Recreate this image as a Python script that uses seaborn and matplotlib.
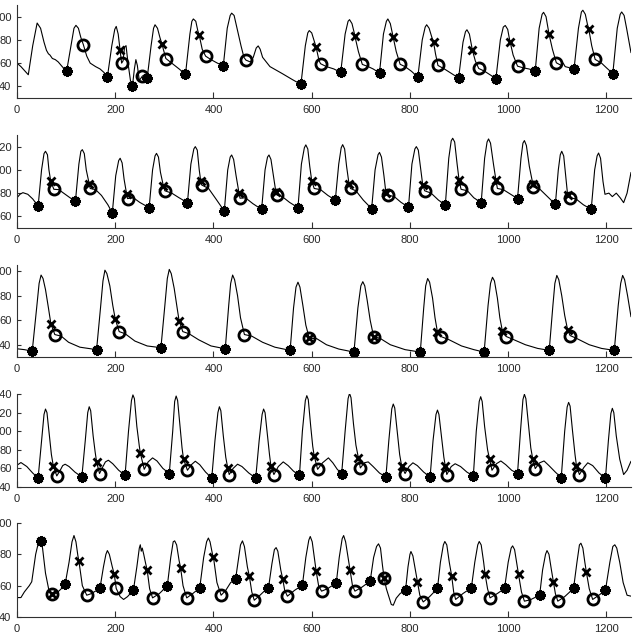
import matplotlib
matplotlib.use("Agg")
import matplotlib.pyplot as plt
import seaborn as sns
import pandas as pd

# ---------------- Panel 1 ----------------
p1_line = [(0,60),(8,57),(23,50),(32,75),(41,94.5),(48,90),(55,78),(60,71),(64,68),(67,67),(72,64),(78,63),(84,61),(92,57),(101,53),
(110,75),(116,90),(120,92.5),(125,90),(130,82),(135,76),(142,66),(149,60),(160,57),(169,55),(177,52),(184,48),
(193,75),(199,89),(202,91.6),(206,85),(210,71),(213,60),(216,62),(219,74),(222,75),(226,60),(231,45),(235,40.3),(239,55),(242,63),(245,58),(249,45),(255,48.7),(260,50),(265,47),
(273,75),(278,90),(281,93),(286,90),(291,82),(295,76.5),(303,64),(315,60),(330,55),(343,50.4),
(352,85),(356,96),(359,98),(364,96),(368,88),(371,84),(377,72),(384,66),(395,63),(408,60),(420,57.7),
(428,90),(434,101),(437,103),(442,101),(448,90),(456,75),(462,65),(466,62.6),(475,61),(481,65),(487,73),(491,74.8),(495,72),(500,65),(515,57),(540,51),(560,46),(578,41.7),
(587,75),(592,86),(595,88),(600,86),(605,79),(609,73.6),(615,62),(618,59.5),(630,57),(645,55),(659,52),
(668,85),(674,96),(677,97.4),(682,94),(686,87),(688,83),(695,70),(703,58.9),(715,57),(725,55),(738,51.6),
(746,85),(752,96),(755,98),(760,94),(764,86),(766,82.3),(772,70),(780,59),(790,57),(803,53),(816,48),
(825,80),(831,91),(834,93),(839,90),(844,83),(848,78),(852,68),(857,58),(870,55),(885,51),(899,47.2),
(908,78),(913,87),(916,88.7),(921,85),(925,76),(927,71.3),(933,62),(940,55.4),(952,53),(963,50),(975,46.7),
(984,80),(990,91),(994,92.4),(999,89),(1002,82),(1004,78),(1010,67),(1019,57.4),(1030,56),(1042,55),(1055,53.3),
(1063,90),(1069,102),(1072,103.7),(1077,100),(1081,90),(1083,85.2),(1090,72),(1098,60.3),(1108,58),(1112,60),(1116,57),(1125,56),(1134,54.8),
(1143,90),(1149,104),(1152,105.5),(1157,102),(1161,94),(1164,89.3),(1170,75),(1177,63.2),(1190,60),(1200,56),(1213,51),
(1222,90),(1228,102),(1231,104),(1236,101),(1241,90),(1250,69)]
p1_star = [(101,53),(184,48),(235,40.3),(265,47),(343,50.4),(420,57.7),(578,41.7),(659,52),(738,51.6),(816,48),(899,47.2),(975,46.7),(1055,53.3),(1134,54.8),(1213,51)]
p1_x = [(210,71.3),(295,76.5),(371,84),(609,73.6),(688,83),(766,82.3),(848,78),(927,71.3),(1004,78),(1083,85.2),(1164,89.3)]
p1_o = [(135,76),(213,59.7),(255,48.7),(303,63.8),(384,66),(466,62.6),(618,59.5),(703,58.9),(780,59),(857,58),(940,55.4),(1019,57.4),(1098,60.3),(1177,63.2)]

# ---------------- Panel 2 ----------------
p2_line = [(0,76),(6,79),(12,80.4),(22,79),(32,75),(43,68.9),
(50,100),(55,114),(58,116),(62,113),(65,100),(68.5,90.6),(75,83.3),(85,83),(95,80),(108,76),(119,73.2),
(126,105),(130,116),(133,117.4),(137,114),(141,100),(147,87.7),(149,84),(160,83),(172,78),(185,70),(194,63),
(201,95),(207,108),(210,110),(214,106),(218,92),(223,79.6),(225,75.3),(237,76),(250,72),(269,67.5),
(276,100),(281,112),(284,114.2),(288,111),(292,98),(298,86.2),(301,82),(315,80),(330,76),(347,71.8),
(354,105),(360,118),(363,120),(367,117),(371,100),(374,90.6),(376,87),(390,84),(405,75),(422,64.6),
(429,100),(434,111),(437,112.8),(441,109),(446,95),(452,80),(454,75.6),(465,76),(480,71),(498,66),
(505,100),(510,111),(513,112.8),(517,109),(522,95),(527,81),(529,78.4),(540,77),(555,72),(572,67.5),
(579,105),(585,119),(588,121.5),(592,118),(596,103),(600,90.6),(605,84),(618,83),(633,78),(648,74),
(655,105),(660,119),(663,121.7),(667,118),(671,103),(676,87.7),(679,84),(690,82),(705,74),(722,66.6),
(729,100),(735,113),(738,115),(742,111),(747,95),(751,80.4),(755,78.4),(768,77),(782,72),(797,68),
(804,105),(810,118),(813,120),(817,117),(822,100),(826,87),(830,82),(843,80),(858,74),(872,69.8),
(879,110),(884,125),(887,127.2),(891,124),(896,105),(900,91.2),(904,83.3),(917,82),(930,76),(945,71.8),
(952,110),(957,124),(960,126.6),(964,123),(970,105),(975,91.2),(978,84),(990,83),(1005,79),(1019,75.3),
(1026,110),(1030,123),(1033,125.2),(1037,121),(1043,103),(1050,88.2),(1051,85.4),(1063,84),(1080,77),(1096,70.4),
(1102,100),(1106,113),(1109,116),(1113,112),(1117,95),(1121,78.2),(1125,76),(1138,75),(1153,70),(1169,66),
(1176,100),(1181,112),(1184,114.5),(1188,110),(1193,90),(1197,79),(1205,80),(1212,77),(1220,80),(1228,76),(1235,71.8),(1242,80),(1250,97.8)]
p2_star = [(43,68.9),(119,73.2),(194,63),(269,67.5),(347,71.8),(422,64.6),(498,66),(572,67.5),(648,74),(722,66.6),(797,68),(872,69.8),(945,71.8),(1019,75.3),(1096,70.4),(1169,66)]
p2_x = [(68.5,90.6),(147,87.7),(223,79.6),(298,86.2),(374,90.6),(452,80),(527,81),(600,90.6),(676,87.7),(751,80.4),(826,87),(900,91.2),(975,91.2),(1050,88.2),(1121,78.2)]
p2_o = [(75,83.3),(149,84),(225,75.3),(301,82),(376,87),(454,75.6),(529,78.4),(605,84),(679,84),(755,78.4),(830,82),(904,83.3),(978,84),(1051,85.4),(1125,76)]

# ---------------- Panel 3 ----------------
p3_line = [(0,36.7),(15,36),(31,34.8),(40,70),(45,90),(49,96.8),(53,94),(58,85),(64,70),(69,57),(77,48.3),(90,47),(105,42),(128,38),(145,37),(162,36),
(170,70),(175,92),(179,100.8),(183,98),(189,88),(195,72),(200,61),(208,50.7),(220,49),(240,43),(265,39),(293,37.6),
(301,72),(306,94),(310,101.4),(314,98),(320,86),(326,70),(330,59.6),(337.5,50.7),(350,49),(370,44),(395,39),(424,36.7),
(431,72),(435,90),(439,96.8),(443,93),(449,80),(455,62),(463,48.3),(478,47),(500,42),(525,38),(556,35.4),
(563,70),(568,87),(572,91),(576,87),(582,72),(588,56),(595,45.3),(610,45),(630,40),(655,36.5),(686,34),
(694,70),(700,88),(704,91.4),(708,88),(713,76),(719,60),(726,46.7),(740,45),(760,40),(790,36),(821,34),
(828,70),(832,88),(836,94),(840,91),(846,78),(851,62),(856,50.2),(863,46.7),(880,44),(905,39),(930,36),(951,34),
(959,72),(964,90),(968,95),(972,92),(978,78),(983,62),(988,51.5),(996,46.7),(1012,44),(1035,40),(1060,37),(1083.5,35.4),
(1091,72),(1095,90),(1099,96.5),(1103,93),(1109,80),(1115,64),(1121,52),(1126,47.5),(1140,45),(1165,40),(1190,37),(1216,35.4),
(1224,72),(1229,90),(1233,96.5),(1237,93),(1243,80),(1250,62.8)]
p3_star = [(31,34.8),(162,36),(293,37.6),(424,36.7),(556,35.4),(686,34),(821,34),(951,34),(1083.5,35.4),(1216,35.4)]
p3_x = [(69,57),(200,61),(330,59.6),(595,45.3),(726,46.7),(856,50.2),(988,51.5),(1121,52)]
p3_o = [(77,48.3),(208,50.7),(337.5,50.7),(463,48.3),(595,45.3),(726,46.7),(863,46.7),(996,46.7),(1126,47.5)]

# ---------------- Panel 4 ----------------
p4_line = [(0,63.4),(8,66.3),(20,62),(32,55),(43,49.7),
(50,90),(55,118),(58,123.8),(61,120),(66,95),(70,75),(74,62.3),(81,51.9),(88,58),(93,63),(98,64.5),(106,62),(118,56),(132,50.8),
(139,90),(144,120),(147,126.3),(150,122),(155,95),(159,78),(162,67),(168,54.5),(175,62),(180,67),(186,68.8),(195,65),(207,58),(220,52.6),
(227,100),(233,133),(236,139),(239,135),(244,105),(249,84),(251,76.7),(259,59),(267,67),(276,71.3),(285,68),(297,60),(310,54.5),
(317,100),(321,132),(324,137.8),(327,133),(332,105),(336,82),(339,70),(347,58),(355,64),(363,67.7),(372,64),(384,56),(396.5,49.7),
(403,90),(409,120),(412,126.3),(415,122),(420,95),(425,72),(429,60.5),(432,53.4),(440,60),(449,64.5),(458,62),(472,55),(486,49.7),
(493,90),(499,118),(502,123.8),(505,120),(510,95),(514,75),(517,62.3),(523,53.4),(532,62),(542,67),(552,63),(563,57),(575,52.6),
(581,100),(587,133),(590,138.2),(593,134),(598,105),(602,84),(605,73.4),(612,59),(622,66),(634,71.3),(643,66),(652,59),(661,54.5),
(668,100),(674,135),(677,140.7),(680,136),(685,108),(690,85),(695,71.3),(699,60.5),(707,66),(715,67),(725,62),(738,55),(751,50.8),
(757,90),(763,124),(766,129.2),(769,125),(774,100),(779,75),(783,62.7),(790,54.5),(798,62),(806,66),(815,63),(828,56),(841,50.8),
(847,90),(853,118),(856,122.7),(859,118),(864,95),(869,72),(872,62.3),(875,53.4),(884,62),(892,65),(903,62),(916,56),(929,51.9),
(935,100),(941,132),(944,137.1),(947,132),(952,105),(958,80),(962,70),(967,58),(976,65),(985,68),(995,64),(1007,58),(1019,54.5),
(1025,100),(1030,134),(1033,139.7),(1036,135),(1041,108),(1046,82),(1050,70),(1055,59.8),(1064,66),(1073,68),(1083,63),(1096,56),(1108,50.1),
(1115,100),(1120,126),(1123,131),(1126,127),(1131,100),(1136,75),(1139,62.7),(1145,53.4),(1154,61),(1162,66),(1172,63),(1185,55),(1198,49.7),
(1204,90),(1209,119),(1212,124.6),(1215,120),(1220,95),(1227,70),(1235,53.4),(1242,58),(1250,67.7)]
p4_star = [(43,49.7),(132,50.8),(220,52.6),(310,54.5),(396.5,49.7),(486,49.7),(575,52.6),(661,54.5),(751,50.8),(841,50.8),(929,51.9),(1019,54.5),(1108,50.1),(1198,49.7)]
p4_x = [(74,62.3),(162,67),(251,76.7),(339,70),(429,60.5),(517,62.3),(605,73.4),(695,71.3),(783,62.7),(872,62.3),(962,70),(1050,70),(1139,62.7)]
p4_o = [(81,51.9),(168,54.5),(259,59),(347,58),(432,53.4),(523,53.4),(612,59),(699,60.5),(790,54.5),(875,53.4),(967,58),(1055,59.8),(1145,53.4)]

# ---------------- Panel 5 ----------------
p5_line = [(0,52.4),(8,52.4),(15,56),(25,60),(30,62.5),(38,80),(44,88),(48,88.6),(52,84),(58,68),(65,57),(72,54.4),(80,55),(90,58),(98,61),
(106,75),(112,88),(116,92),(120,88),(124,79),(126,75.8),(133,60),(142,53.9),(152,55),(162,57),(169,58.6),
(176,72),(181,80),(184,82.4),(188,80),(194,72),(198,67.2),(202,58.2),(210,53),(217,51.2),(225,53),(237,57.1),
(244,72),(249,84),(251,86.1),(253,82),(255,84),(258,80),(262,74),(265,70),(270,58),(276,52.2),(290,55),(306,59.9),
(313,78),(318,88),(321,88.6),(325,86),(330,76),(333,71.5),(338,60),(345.5,52.2),(358,55),(372,58.6),
(380,78),(386,88),(389.6,90.4),(393,88),(398,80),(400,78.1),(407,62),(415.5,53.9),(425,57),(435,62),(445,64.2),
(450,75),(455,86),(459,88.6),(463,85),(469,72),(473,66.1),(478,56),(483,50.7),(495,54),(505,57),(512,58.6),
(519,74),(524,83),(527.5,84.3),(531,82),(537,70),(541,64.2),(545,57),(550.5,53.3),(565,57),(581,60.3),
(588,78),(594,89),(597,91.4),(601,88),(606,76),(609,69.3),(614,60),(620,56.5),(632,58),(650,61.8),
(656,78),(662,90),(665,92),(669,88),(674,78),(678,70),(683,60),(688,56.5),(702,59),(719,62.9),
(726,78),(732,85),(736,86.7),(740,84),(744,73),(747.5,64.6),(752,58),(758,52),(762,48),(766,47.5),(772,52),(780,55),(791,57.1),
(796,72),(800,80),(802,81.8),(806,79),(811,70),(815,62.5),(820,54),(827,49.6),(840,53),(856,58.2),
(862,75),(868,86),(871,88.2),(875,86),(880,75),(885,66.1),(889,56),(893,51.2),(908,55),(925,58.6),
(932,75),(938,86),(941,88.2),(945,86),(950,75),(953,67.2),(958,58),(963,52.2),(978,55),(992.5,58.2),
(1000,75),(1006,84),(1009,85.4),(1013,83),(1018,73),(1021,67.2),(1027,56),(1033,50.1),(1045,51),(1064,53.9),
(1070,70),(1076,80),(1079,82.4),(1083,80),(1088,70),(1092,62.5),(1096,55),(1101,50.1),(1115,53),(1133,58.2),
(1140,75),(1145,86),(1148,87.1),(1152,84),(1156,75),(1159,68.9),(1165,58),(1172,51.2),(1185,54),(1198,57.1),
(1207,75),(1213,85),(1217,86.1),(1221,84),(1227,75),(1234,62),(1242,53.9),(1250,53.3)]
p5_star = [(48,88.6),(98,61),(169,58.6),(237,57.1),(306,59.9),(372,58.6),(445,64.2),(512,58.6),(581,60.3),(650,61.8),(719,62.9),(791,57.1),(856,58.2),(925,58.6),(992.5,58.2),(1064,53.9),(1133,58.2),(1198,57.1)]
p5_x = [(72,54.4),(126,75.8),(198,67.2),(265,70),(333,71.5),(400,78.1),(473,66.1),(541,64.2),(609,69.3),(678,70),(747.5,64.6),(815,62.5),(885,66.1),(953,67.2),(1021,67.2),(1092,62.5),(1159,68.9)]
p5_o = [(72,54.4),(142,53.9),(202,58.2),(276,52.2),(345.5,52.2),(415.5,53.9),(483,50.7),(550.5,53.3),(620,56.5),(688,56.5),(747.5,64.6),(827,49.6),(893,51.2),(963,52.2),(1033,50.1),(1101,50.1),(1172,51.2)]

x_ticks = [0, 200, 400, 600, 800, 1000, 1200]
panels = [
    dict(line=p1_line, star=p1_star, x=p1_x, o=p1_o, ylim=(30, 110), yticks=[40, 60, 80, 100], top=5, bottom=98),
    dict(line=p2_line, star=p2_star, x=p2_x, o=p2_o, ylim=(50, 130), yticks=[60, 80, 100, 120], top=135, bottom=228),
    dict(line=p3_line, star=p3_star, x=p3_x, o=p3_o, ylim=(30, 105), yticks=[40, 60, 80, 100], top=265, bottom=357),
    dict(line=p4_line, star=p4_star, x=p4_x, o=p4_o, ylim=(40, 140), yticks=[40, 60, 80, 100, 120, 140], top=394, bottom=487),
    dict(line=p5_line, star=p5_star, x=p5_x, o=p5_o, ylim=(40, 100), yticks=[40, 60, 80, 100], top=523, bottom=617),
]

sns.set_style("ticks")
plt.rcParams["font.family"] = ["Liberation Sans", "DejaVu Sans"]

W, H = 637, 643
fig = plt.figure(figsize=(W / 100, H / 100), dpi=100)
fig.patch.set_facecolor("white")

left_px, right_px = 17, 631
for p in panels:
    ax = fig.add_axes([left_px / W, 1 - p["bottom"] / H, (right_px - left_px) / W, (p["bottom"] - p["top"]) / H])
    df = pd.DataFrame(p["line"], columns=["t", "v"])
    sns.lineplot(data=df, x="t", y="v", ax=ax, color="black", linewidth=0.8,
                 sort=False, estimator=None, legend=False)
    ds = pd.DataFrame(p["star"], columns=["t", "v"])
    dx = pd.DataFrame(p["x"], columns=["t", "v"])
    do = pd.DataFrame(p["o"], columns=["t", "v"])
    ax.plot(do["t"], do["v"], linestyle="none", marker="o", ms=8, mew=2.0, mfc="none", mec="black")
    ax.plot(dx["t"], dx["v"], linestyle="none", marker="x", ms=5.5, mew=2.0, color="black")
    ax.plot(ds["t"], ds["v"], linestyle="none", marker=(8, 2, 0), ms=7.5, mew=2.2, color="black")
    ax.set_xlim(0, 1250)
    ax.set_ylim(*p["ylim"])
    ax.set_xticks(x_ticks)
    ax.set_yticks(p["yticks"])
    ax.set_xlabel("")
    ax.set_ylabel("")
    for s in ["top", "right"]:
        ax.spines[s].set_visible(False)
    for s in ["left", "bottom"]:
        ax.spines[s].set_color("#303030")
        ax.spines[s].set_linewidth(0.8)
    ax.tick_params(axis="x", direction="in", length=4, width=0.8, labelsize=8, pad=5, color="#303030")
    ax.tick_params(axis="y", direction="in", length=3, width=0.8, labelsize=8, pad=4, color="#303030")
    ax.set_facecolor("white")

fig.savefig("out.png", dpi=100, facecolor="white")
